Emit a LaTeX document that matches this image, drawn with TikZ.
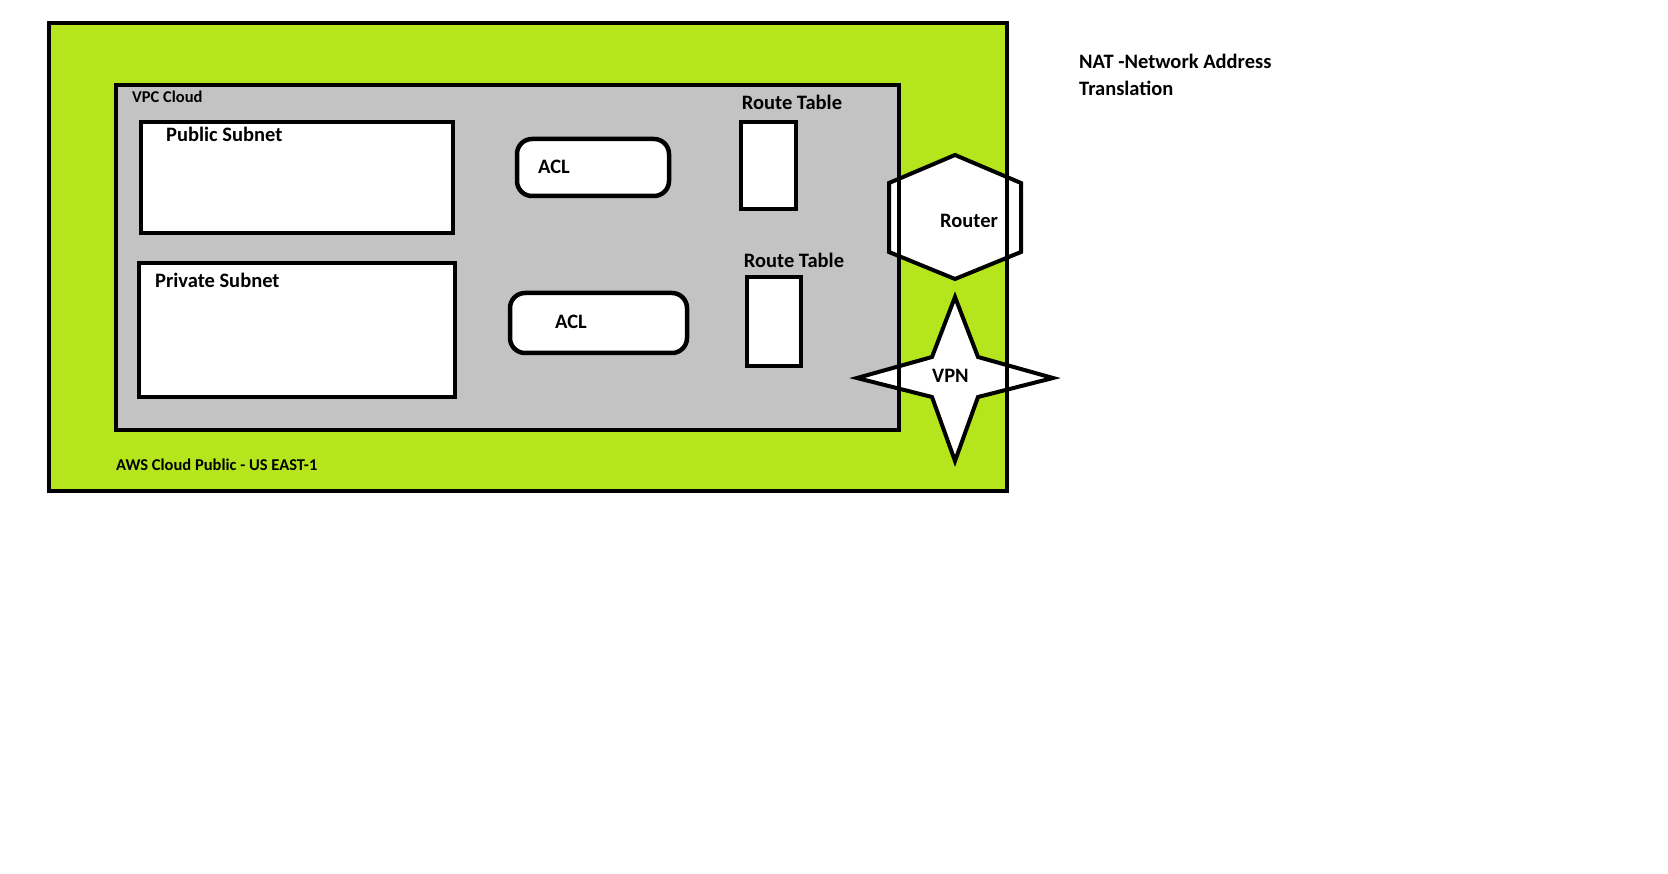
\documentclass[tikz,border=0pt]{standalone}
\usepackage{fontspec}
\setmainfont{Carlito}
\definecolor{lime}{RGB}{181,230,29}
\definecolor{paintgray}{RGB}{195,195,195}
\begin{document}
\begin{tikzpicture}[x=1pt,y=-1pt,
  box/.style={rectangle,inner sep=0pt,outer sep=0pt},
  border/.style={draw=black,line width=4.5pt},
  wbox/.style={box,border,fill=white},
  lbl/.style={font=\bfseries\fontsize{20.5}{24}\selectfont,inner sep=0pt},
  slbl/.style={font=\bfseries\fontsize{16.5}{19}\selectfont,inner sep=0pt},
  line join=miter]
\useasboundingbox (0,0) rectangle (1668,874);
% outer and VPC fills
\node[box,fill=lime,minimum width=958pt,minimum height=468pt] (aws) at (528,257) {};
\node[box,fill=paintgray,minimum width=783pt,minimum height=345pt] (vpc) at (507.5,257.5) {};
% router and VPN white fills
\fill[white] (955,155) -- (1021,183) -- (1021,252) -- (955,279) -- (889,252) -- (889,183) -- cycle;
\fill[white] (955,297) -- (978,357) -- (1053,378) -- (978,397) -- (955,461) -- (932,397) -- (857,378) -- (932,357) -- cycle;
% borders of outer and VPC
\draw[border] (aws.north west) rectangle (aws.south east);
\draw[border] (vpc.north west) rectangle (vpc.south east);
% router and VPN outlines
\draw[border,line width=4pt] (955,155) -- (1021,183) -- (1021,252) -- (955,279) -- (889,252) -- (889,183) -- cycle;
\draw[border,line width=4pt] (955,297) -- (978,357) -- (1053,378) -- (978,397) -- (955,461) -- (932,397) -- (857,378) -- (932,357) -- cycle;
\node[lbl,anchor=west] (router) at (940,221) {Router};
\node[lbl,anchor=west] (vpn) at (932,376) {VPN};
% subnets
\node[wbox,minimum width=312pt,minimum height=111pt] (pub) at (297,177.5) {};
\node[lbl,anchor=west] (publbl) at (166,134) {Public Subnet};
\node[wbox,minimum width=316pt,minimum height=134pt] (priv) at (297,330) {};
\node[lbl,anchor=west] (privlbl) at (155,280) {Private Subnet};
% ACLs
\node[wbox,rounded corners=15pt,minimum width=152pt,minimum height=57pt] (acl1) at (593,167.5) {};
\node[lbl,anchor=west] (acl1lbl) at (538,167) {ACL};
\node[wbox,rounded corners=15pt,minimum width=177pt,minimum height=60pt] (acl2) at (598.5,323) {};
\node[lbl,anchor=west] (acl2lbl) at (555,322) {ACL};
% route tables
\node[lbl] (rt1lbl) at (792,102) {Route Table};
\node[wbox,minimum width=55pt,minimum height=87pt] (rt1) at (768.5,165.5) {};
\node[lbl] (rt2lbl) at (794,260) {Route Table};
\node[wbox,minimum width=54pt,minimum height=89pt] (rt2) at (774,321.5) {};
% small labels
\node[slbl,anchor=west] (vpclbl) at (132,97) {VPC Cloud};
\node[slbl,anchor=west] (awslbl) at (116,465) {AWS Cloud Public - US EAST-1};
% NAT note
\node[anchor=north west,align=left,inner sep=0pt,font=\bfseries\fontsize{20.5}{27}\selectfont] (nat) at (1079,54) {NAT -Network Address\\Translation};
\end{tikzpicture}
\end{document}
